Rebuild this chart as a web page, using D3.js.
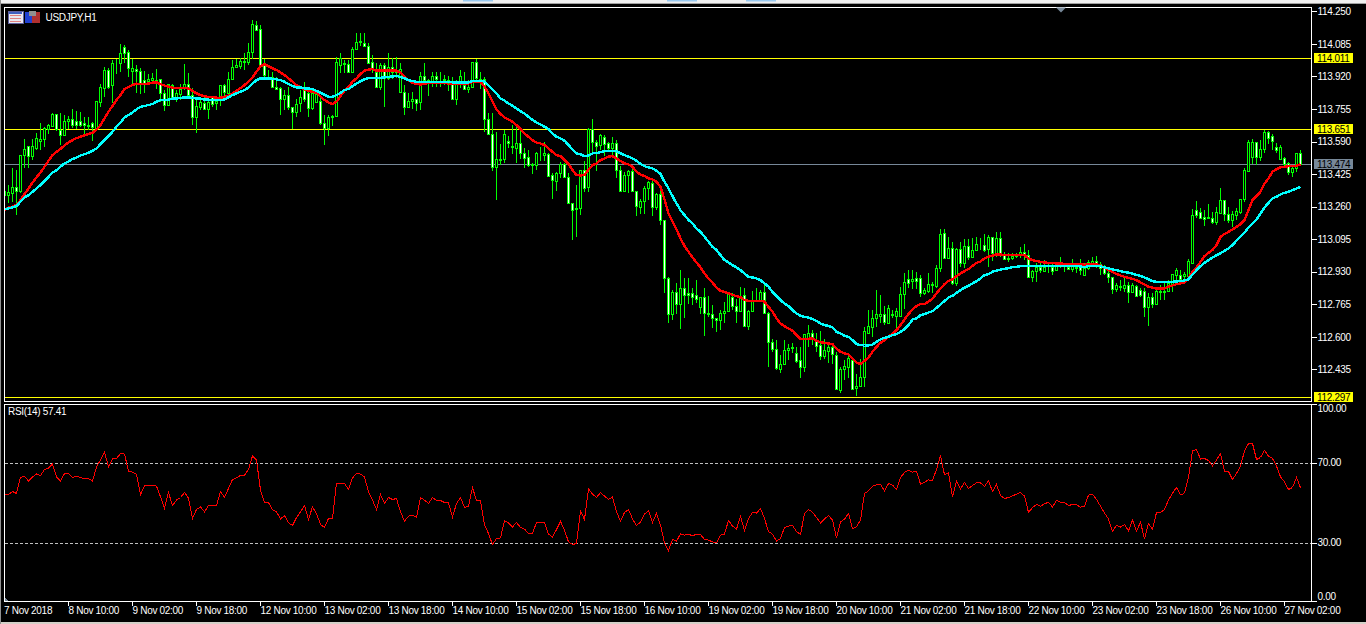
<!DOCTYPE html>
<html><head><meta charset="utf-8">
<script src="https://cdn.jsdelivr.net/npm/d3@7/dist/d3.min.js"></script>
<style>
html,body{margin:0;padding:0;background:#000;overflow:hidden}
svg{display:block}
text{font-family:"Liberation Sans",Arial,sans-serif;font-size:10px;fill:#fff;letter-spacing:-0.3px}
</style></head><body>
<svg id="c" width="1366" height="624"></svg>
<script>
const opens=[113.318,113.318,113.327,113.357,113.340,113.521,113.567,113.516,113.555,113.594,
113.601,113.651,113.668,113.727,113.648,113.623,113.695,113.705,113.692,113.692,
113.682,113.668,113.682,113.661,113.792,113.859,113.952,113.876,113.986,113.986,
114.067,114.043,113.949,113.955,113.945,113.901,113.898,113.901,113.901,113.905,
113.837,113.773,113.878,113.814,113.830,113.859,113.884,113.825,113.712,113.766,
113.783,113.753,113.817,113.787,113.800,113.874,113.837,113.905,113.966,113.972,
113.993,113.994,114.045,114.179,114.158,113.986,113.915,113.918,113.868,113.859,
113.803,113.824,113.766,113.741,113.787,113.851,113.834,113.758,113.792,113.797,
113.685,113.661,113.712,113.719,
113.977,113.983,113.981,113.944,114.057,114.096,114.091,114.075,113.991,113.944,113.868,113.977,113.910,113.966,113.944,113.842,
113.842,113.763,113.797,113.803,113.788,113.923,113.893,113.893,113.923,113.893,113.901,113.893,113.884,113.803,113.884,113.876,
113.854,113.864,113.991,113.905,113.905,113.702,113.626,113.459,113.496,113.499,113.594,113.563,113.557,113.580,113.530,113.509,
113.469,113.469,113.526,113.523,113.526,113.418,113.391,113.428,113.476,113.408,113.276,113.247,113.251,113.448,113.357,113.651,
113.589,113.572,113.611,113.580,113.557,113.584,113.448,113.337,113.418,113.438,113.337,113.259,113.290,113.354,113.381,113.256,113.323,
113.192,112.896,112.718,112.828,112.764,112.845,112.820,112.820,112.810,112.749,112.800,112.722,112.715,112.693,112.683,112.722,
112.729,112.803,112.756,112.729,112.810,112.656,112.732,112.783,112.783,112.827,112.722,112.573,112.536,112.438,112.460,112.533,
112.544,112.516,112.482,112.448,112.592,112.617,112.583,112.558,112.502,112.529,112.546,112.510,112.330,112.435,112.448,112.482,
112.343,112.350,112.394,112.620,112.651,112.693,112.705,112.718,112.671,112.713,112.708,112.707,112.815,112.891,112.881,112.898,
112.896,112.820,112.833,112.862,112.857,112.947,113.124,113.002,113.048,112.871,113.043,112.975,113.058,113.006,113.040,113.068,
113.063,113.043,113.105,113.023,113.100,113.014,112.999,112.997,113.009,113.014,113.031,113.014,112.904,112.933,112.955,112.935,
112.952,112.955,112.938,112.962,112.952,112.952,112.945,112.950,112.955,112.913,112.947,112.975,112.985,112.969,112.947,112.921,
112.901,112.843,112.852,112.850,112.862,112.828,112.859,112.837,112.833,112.752,112.800,112.764,112.828,112.828,112.833,112.867,
112.914,112.913,112.909,112.908,112.975,113.241,113.234,113.209,113.202,113.200,113.183,113.229,113.293,113.222,113.192,113.217,
113.234,113.298,113.442,113.513,113.585,113.509,113.550,113.636,113.618,113.560,113.499,113.504,113.479,113.433,113.454,113.530];
const closes=[113.340,113.332,113.357,113.340,113.521,113.550,113.519,113.567,113.606,113.601,
113.656,113.672,113.729,113.651,113.623,113.695,113.702,113.673,113.672,113.675,
113.672,113.672,113.665,113.797,113.864,113.952,113.864,113.986,113.989,114.040,
114.040,113.961,113.962,113.945,113.881,113.884,113.908,113.912,113.898,113.837,
113.776,113.881,113.807,113.834,113.857,113.884,113.825,113.712,113.770,113.790,
113.753,113.790,113.780,113.793,113.874,113.842,113.905,113.966,113.976,113.996,
113.996,114.045,114.185,114.155,113.977,113.927,113.918,113.868,113.857,113.803,
113.824,113.766,113.741,113.780,113.814,113.808,113.758,113.834,113.830,113.685,
113.661,113.715,113.719,113.993,
114.011,113.989,113.944,114.057,114.096,114.099,114.075,113.989,113.961,113.868,113.977,113.910,113.966,113.944,113.952,113.955,
113.766,113.797,113.803,113.787,113.923,113.901,113.901,113.923,113.906,113.898,113.908,113.901,113.808,113.888,113.922,113.854,
113.864,113.991,113.910,113.893,113.702,113.626,113.459,113.499,113.499,113.626,113.580,113.567,113.580,113.530,113.506,113.470,
113.476,113.530,113.528,113.530,113.415,113.394,113.428,113.476,113.408,113.276,113.242,113.251,113.448,113.356,113.653,113.589,
113.568,113.621,113.577,113.557,113.584,113.448,113.337,113.420,113.438,113.337,113.263,113.290,113.352,113.384,113.256,113.323,113.192,
112.896,112.718,112.828,112.766,112.845,112.810,112.811,112.800,112.794,112.800,112.722,112.717,112.693,112.683,112.723,112.729,
112.816,112.756,112.729,112.806,112.656,112.730,112.786,112.786,112.827,112.722,112.573,112.536,112.440,112.460,112.533,112.541,
112.549,112.478,112.448,112.614,112.617,112.600,112.553,112.504,112.533,112.546,112.512,112.333,112.436,112.451,112.492,112.338,
112.353,112.394,112.627,112.654,112.693,112.715,112.718,112.674,112.744,112.718,112.729,112.815,112.876,112.874,112.891,112.881,
112.820,112.837,112.867,112.867,112.947,113.119,113.002,113.048,112.871,113.043,112.975,113.058,113.006,113.040,113.073,113.073,
113.040,113.105,113.026,113.100,113.023,112.992,112.992,113.011,113.014,113.031,113.014,112.904,112.933,112.955,112.938,112.955,
112.955,112.935,112.969,112.969,112.955,112.945,112.958,112.955,112.941,112.947,112.980,112.982,112.969,112.947,112.921,112.901,
112.843,112.862,112.859,112.862,112.828,112.862,112.808,112.813,112.752,112.800,112.764,112.832,112.832,112.832,112.871,112.918,
112.938,112.892,112.918,112.982,113.220,113.219,113.200,113.198,113.209,113.183,113.231,113.293,113.225,113.192,113.222,113.239,
113.298,113.448,113.589,113.589,113.513,113.552,113.636,113.609,113.594,113.547,113.563,113.476,113.433,113.454,113.530,113.474];
const highs=[113.340,113.369,113.454,113.445,113.521,113.601,113.567,113.601,113.634,113.682,
113.665,113.678,113.732,113.727,113.732,113.724,113.719,113.756,113.746,113.739,
113.712,113.712,113.688,113.797,113.881,113.969,113.961,114.003,114.006,114.084,
114.079,114.054,114.010,113.977,113.961,113.945,113.932,113.939,113.955,113.905,
113.851,113.884,113.884,113.851,113.884,113.983,113.935,113.859,113.800,113.817,
113.825,113.808,113.820,113.817,113.876,113.884,113.944,114.003,114.006,114.011,
114.037,114.087,114.206,114.202,114.180,114.006,113.952,113.944,113.918,113.864,
113.851,113.868,113.766,113.803,113.851,113.893,113.854,113.854,113.842,113.825,
113.724,113.724,113.724,114.020,
114.037,114.003,114.003,114.070,114.138,114.141,114.138,114.091,114.028,113.986,113.986,113.986,114.037,114.011,114.016,113.986,
113.876,113.834,113.842,113.808,113.944,113.986,113.905,113.944,113.944,113.944,113.927,113.923,113.918,113.901,113.952,113.944,
113.901,113.994,114.008,113.944,113.918,113.732,113.737,113.639,113.577,113.648,113.617,113.673,113.673,113.645,113.555,113.547,
113.479,113.538,113.563,113.589,113.530,113.428,113.437,113.487,113.479,113.428,113.279,113.369,113.448,113.492,113.656,113.702,
113.597,113.628,113.623,113.589,113.611,113.597,113.465,113.437,113.445,113.462,113.340,113.301,113.364,113.391,113.398,113.327,113.344,
113.192,112.901,112.837,112.871,112.941,112.896,112.896,112.850,112.887,112.803,112.850,112.806,112.761,112.693,112.735,112.778,
112.820,112.823,112.794,112.854,112.850,112.735,112.833,112.845,112.837,112.874,112.727,112.587,112.583,112.507,112.583,112.566,
112.570,112.549,112.549,112.614,112.659,112.634,112.620,112.627,112.587,112.566,112.563,112.524,112.448,112.482,112.516,112.499,
112.414,112.490,112.651,112.735,112.735,112.837,112.810,112.756,112.761,112.735,112.744,112.854,112.921,112.938,112.938,112.930,
112.913,112.845,112.921,112.879,112.963,113.144,113.144,113.104,113.082,113.048,113.082,113.094,113.094,113.099,113.107,113.099,
113.121,113.116,113.107,113.129,113.131,113.031,113.023,113.026,113.026,113.056,113.073,113.040,112.938,112.972,112.980,112.989,
112.969,112.972,112.972,113.006,112.963,112.972,112.992,112.972,112.992,112.975,112.989,113.006,113.009,112.980,112.963,112.947,
112.904,112.871,112.887,112.904,112.879,112.871,112.862,112.845,112.845,112.820,112.823,112.845,112.862,112.871,112.887,112.918,
112.947,112.938,112.930,112.992,113.246,113.288,113.251,113.242,113.273,113.234,113.259,113.352,113.293,113.256,113.239,113.251,
113.301,113.454,113.597,113.601,113.589,113.597,113.648,113.645,113.628,113.580,113.572,113.513,113.487,113.470,113.530,113.547];
const lows=[113.310,113.276,113.285,113.217,113.327,113.454,113.457,113.496,113.547,113.547,
113.563,113.628,113.665,113.645,113.572,113.617,113.651,113.661,113.651,113.665,
113.628,113.648,113.594,113.645,113.763,113.817,113.854,113.783,113.932,113.944,
113.986,113.915,113.884,113.834,113.830,113.834,113.876,113.881,113.854,113.792,
113.746,113.773,113.817,113.792,113.800,113.851,113.817,113.673,113.634,113.749,
113.749,113.702,113.766,113.749,113.770,113.808,113.817,113.901,113.961,113.955,
113.952,113.977,114.006,114.155,113.977,113.915,113.901,113.864,113.851,113.724,
113.749,113.749,113.651,113.715,113.741,113.792,113.712,113.749,113.783,113.673,
113.574,113.617,113.668,113.715,
113.935,113.939,113.935,113.944,114.057,114.074,114.070,113.986,113.935,113.859,113.851,113.763,113.901,113.905,113.910,113.842,
113.724,113.758,113.753,113.744,113.749,113.884,113.820,113.868,113.868,113.868,113.876,113.847,113.808,113.775,113.859,113.851,
113.837,113.859,113.901,113.854,113.639,113.623,113.442,113.293,113.470,113.482,113.555,113.526,113.479,113.499,113.454,113.462,
113.425,113.445,113.492,113.492,113.411,113.298,113.340,113.403,113.403,113.273,113.090,113.107,113.217,113.335,113.335,113.538,
113.442,113.547,113.516,113.547,113.504,113.403,113.335,113.335,113.327,113.332,113.212,113.222,113.225,113.293,113.212,113.242,113.166,
112.823,112.671,112.685,112.718,112.642,112.693,112.766,112.761,112.772,112.718,112.605,112.701,112.647,112.625,112.634,112.668,
112.727,112.735,112.668,112.727,112.651,112.637,112.727,112.783,112.783,112.715,112.448,112.524,112.431,112.418,112.456,112.482,
112.519,112.468,112.392,112.423,112.549,112.558,112.524,112.485,112.490,112.468,112.462,112.330,112.316,112.380,112.389,112.330,
112.299,112.347,112.347,112.617,112.600,112.651,112.668,112.659,112.664,112.693,112.637,112.701,112.740,112.845,112.840,112.840,
112.803,112.811,112.820,112.820,112.845,112.930,112.997,113.002,112.862,112.859,112.955,112.947,112.989,112.997,113.040,113.040,
113.031,112.955,112.985,113.006,113.006,112.989,112.980,112.989,113.002,112.997,112.989,112.896,112.879,112.879,112.921,112.935,
112.925,112.911,112.935,112.947,112.930,112.938,112.930,112.925,112.913,112.911,112.938,112.955,112.947,112.913,112.913,112.871,
112.816,112.828,112.833,112.828,112.772,112.820,112.806,112.803,112.701,112.656,112.744,112.761,112.786,112.789,112.833,112.828,
112.871,112.891,112.887,112.904,112.972,113.200,113.195,113.161,113.197,113.171,113.166,113.225,113.188,113.178,113.158,113.192,
113.225,113.285,113.437,113.476,113.470,113.492,113.530,113.577,113.547,113.533,113.496,113.462,113.420,113.411,113.437,113.470];
const emaFast=[113.242,113.256,113.259,113.269,113.293,113.323,113.352,113.381,113.408,113.433,
113.462,113.492,113.521,113.538,113.552,113.570,113.585,113.597,113.607,113.614,
113.621,113.628,113.634,113.651,113.673,113.707,113.741,113.770,113.800,113.825,
113.856,113.866,113.876,113.883,113.881,113.881,113.884,113.888,113.890,113.881,
113.874,113.868,113.863,113.861,113.861,113.861,113.859,113.847,113.834,113.825,
113.820,113.815,113.815,113.812,113.812,113.815,113.822,113.834,113.847,113.861,
113.876,113.893,113.915,113.944,113.972,113.981,113.972,113.961,113.952,113.940,
113.927,113.910,113.893,113.876,113.864,113.854,113.847,113.842,113.837,113.817,
113.800,113.788,113.780,113.792,113.820,
113.847,113.868,113.893,113.910,113.932,113.949,113.955,113.957,113.949,113.949,113.949,113.949,113.949,113.949,113.939,
113.918,113.901,113.888,113.881,113.879,113.883,113.886,113.888,113.890,113.890,113.888,113.884,113.884,113.884,113.884,113.884,113.884,
113.891,113.893,113.893,113.868,113.834,113.792,113.753,113.729,113.712,113.702,113.690,113.673,113.653,113.631,113.614,113.597,113.585,113.580,113.572,
113.555,113.538,113.521,113.516,113.496,113.476,113.445,113.420,113.418,113.420,113.448,113.470,113.479,113.496,113.504,113.513,113.516,113.504,113.491,113.479,
113.474,113.462,113.437,113.423,113.415,113.403,113.398,113.386,113.361,
113.296,113.225,113.183,113.144,113.099,113.060,113.031,113.002,112.977,112.952,112.921,112.896,112.874,112.850,112.833,112.827,112.820,112.813,112.806,112.801,
112.786,112.783,112.783,112.783,112.783,112.778,112.752,112.727,112.693,112.668,112.654,112.642,112.631,112.609,112.588,112.588,112.590,112.592,112.580,112.573,
112.570,112.566,112.563,112.541,112.524,112.516,112.512,112.490,112.470,112.462,112.478,112.495,112.524,112.549,112.570,112.583,112.600,112.617,112.634,112.659,
112.688,112.715,112.739,112.756,112.766,112.766,112.778,112.794,112.820,112.845,112.867,112.884,112.891,112.908,112.921,112.933,112.943,112.960,112.975,112.982,
112.997,113.006,113.011,113.018,113.018,113.014,113.014,113.014,113.014,113.014,113.014,112.997,112.989,112.984,112.980,112.977,112.975,112.974,112.972,112.972,
112.970,112.969,112.969,112.967,112.967,112.965,112.967,112.967,112.967,112.962,112.950,112.938,112.928,112.918,112.911,112.904,112.899,112.894,112.887,112.876,
112.865,112.854,112.849,112.845,112.845,112.845,112.854,112.860,112.867,112.871,112.874,112.896,112.930,112.952,112.980,113.009,113.026,113.040,113.065,113.107,
113.121,113.132,113.144,113.158,113.171,113.192,113.242,113.293,113.313,113.335,113.377,113.403,113.437,113.450,113.459,113.462,113.465,113.465,113.467,113.474];
const emaSlow=[113.247,113.251,113.256,113.263,113.285,113.307,113.318,113.335,113.352,113.369,
113.389,113.411,113.432,113.445,113.462,113.479,113.489,113.501,113.509,113.519,
113.526,113.533,113.543,113.555,113.577,113.597,113.617,113.639,113.665,113.685,
113.712,113.724,113.737,113.753,113.766,113.770,113.775,113.780,113.792,113.800,
113.800,113.802,113.807,113.808,113.810,113.814,113.814,113.810,113.808,113.807,
113.803,113.802,113.800,113.800,113.800,113.803,113.814,113.825,113.834,113.842,
113.851,113.863,113.884,113.901,113.910,113.910,113.910,113.908,113.905,113.901,
113.893,113.881,113.871,113.864,113.864,113.859,113.859,113.856,113.847,113.837,
113.827,113.817,113.817,113.825,113.837,
113.851,113.856,113.871,113.884,113.896,113.905,113.912,113.913,113.913,113.913,113.915,113.917,113.920,113.922,113.917,
113.910,113.901,113.896,113.893,113.893,113.893,113.893,113.893,113.893,113.893,113.893,113.891,113.890,113.890,113.890,113.890,113.890,
113.896,113.898,113.898,113.893,113.873,113.854,113.834,113.808,113.797,113.783,113.771,113.758,113.744,113.732,113.715,113.699,113.687,113.677,113.665,
113.653,113.631,113.614,113.606,113.594,113.572,113.550,113.530,113.525,113.516,113.519,113.530,113.531,113.536,113.541,113.543,113.541,113.541,113.530,113.521,
113.513,113.504,113.492,113.476,113.465,113.459,113.454,113.442,113.425,
113.386,113.352,113.313,113.276,113.242,113.217,113.192,113.175,113.149,113.132,113.107,113.082,113.056,113.040,113.014,112.989,112.977,112.963,112.952,112.938,
112.921,112.904,112.901,112.896,112.887,112.871,112.854,112.828,112.806,112.786,112.769,112.756,112.735,112.718,112.707,112.701,112.698,112.690,112.681,112.668,
112.659,112.656,112.647,112.625,112.617,112.605,112.600,112.583,112.563,112.558,112.556,112.556,112.561,112.575,112.587,112.595,112.600,112.609,112.614,112.625,
112.639,112.659,112.688,112.693,112.710,112.715,112.723,112.730,112.747,112.764,112.781,112.800,112.808,112.823,112.837,112.849,112.859,112.871,112.882,112.896,
112.913,112.918,112.930,112.936,112.941,112.945,112.948,112.953,112.955,112.958,112.958,112.958,112.958,112.958,112.958,112.958,112.958,112.958,112.958,112.958,
112.958,112.958,112.958,112.958,112.957,112.953,112.958,112.960,112.960,112.958,112.952,112.947,112.941,112.938,112.933,112.928,112.925,112.921,112.913,112.909,
112.901,112.892,112.882,112.879,112.879,112.879,112.879,112.879,112.881,112.882,112.886,112.891,112.916,112.938,112.958,112.975,112.989,113.002,113.014,113.023,
113.036,113.048,113.065,113.087,113.107,113.129,113.154,113.175,113.195,113.225,113.256,113.279,113.301,113.310,113.322,113.330,113.335,113.344,113.351,113.361];
const rsi=[54,54,55.5,54.5,62.5,63.2,60.8,62.8,64.3,63.5,
66.5,67.2,69.2,62.8,60.8,64.5,64.5,62.5,63.2,62.5,
61.8,62,60.7,67.8,71.2,75.2,67.8,71.8,72,74.5,
74.2,65.7,65.2,64.2,53.8,58.5,58.5,58.5,58.2,52.8,
47,55,48.5,51.2,52.5,55,52.2,42,46.5,47.8,
45.3,48.5,48.5,48.5,55.5,52.5,57,61.5,62.3,63.5,
63.7,66.5,73.3,71.2,56.2,50,50,46.5,45.3,41.8,
43.5,39.8,38.5,42.5,45.3,48.5,41.5,47.8,44.5,39,
37.5,42,42.2,59.6,59.3,
59.5,56.5,62.3,64.5,64.2,62.8,55.3,51.2,46.5,54,49.5,52.5,51.5,52,45.3,
40.7,43.2,43.5,42.7,52.5,51.2,49.5,52.5,51,51,50,49.8,42.8,49.5,52.5,47.5,48.2,57.5,51,51,
38.7,34.5,29,32,32.3,41,39.8,37.8,40,37.5,36.7,34.5,34.5,40,40,40,34.2,32.7,36.5,40.5,
36.2,30.3,29,29.5,45.8,41.5,56.8,54.2,52.5,55,53.2,51.5,52.8,45.3,40.7,45,46.5,41.8,38.5,40.2,
44.2,46,40,44.5,38.7,29.8,26,31.5,30.7,34.3,33.7,34,33.5,34,34,31.5,31.2,30.3,29.8,33.7,
34.2,41,38.2,36.7,43,36,42,45,44.7,47,42,35.5,34.2,30.7,32,37.5,38.2,38.5,35.5,34,
44.5,46.5,45.2,42.5,39.8,41.8,43.5,41.2,32.3,40.2,41.7,44.5,37,37.8,41.2,54.5,55.8,58.2,58.8,59.2,
55.8,59.5,58.7,56.5,62.5,65,66.2,65.2,65.5,59.2,60.2,61.3,61,66.5,73.5,63.8,65,52.8,60.5,56.8,
60,57,58.5,59.8,59.8,58,61,55.5,59,53.5,52,52.5,53.3,54.2,55,53.2,45,47.5,49,48.2,
49.3,50.2,47.8,51,50.2,50,48.5,49,48.8,47.7,48.2,53.7,54.2,51.5,48.2,44.8,41.7,35.7,38.5,37.7,
39,35.8,41.2,35.7,40.2,31.7,39.5,36.5,45,45,
46.5,51.2,54.7,57.5,53.8,54.5,62.8,75.8,76.5,71.7,72,71,68.3,71.2,74.5,65.7,65.5,61.5,64.5,68.2,
75.8,79.5,79.5,71.5,72.5,76,73.2,72,68.2,62.8,60.3,56.5,57.5,62.5,57.41];
const priceTicks=[114.250,114.085,113.920,113.755,113.590,113.425,113.260,113.095,112.930,112.765,112.600,112.435];
const rsiTicks=[100,70,30,0];
const levels=[114.011,113.651,112.297];
const bidLevel=113.474;
const timeTickBars=[16,32,48,64,80,96,112,128,144,160,176,192,208,224,240,256,272,288,304,320];
const timeTickLabels=["8 Nov 10:00","9 Nov 02:00","9 Nov 18:00","12 Nov 10:00","13 Nov 02:00","13 Nov 18:00","14 Nov 10:00","15 Nov 02:00","15 Nov 18:00","16 Nov 10:00","19 Nov 02:00","19 Nov 18:00","20 Nov 10:00","21 Nov 02:00","21 Nov 18:00","22 Nov 10:00","23 Nov 02:00","23 Nov 18:00","26 Nov 10:00","27 Nov 02:00"];

const svg=d3.select('#c');
const L=4.5,R=1311.5,T=7.5,B1=401.5,T2=404.5,B2=601.5;
const n=closes.length;
const bars=d3.range(n);
const x=d3.scaleLinear().domain([0,324]).range([4.5,1300.5]);
const y=d3.scaleLinear().domain([114.25,112.297]).range([11.3,396.6]);
const ry=d3.scaleLinear().domain([0,100]).range([602.5,402.5]);

// window chrome
svg.append('rect').attr('width',1366).attr('height',624).attr('fill','#000');
svg.append('rect').attr('width',1366).attr('height',3).attr('fill','#f0f0f0');
svg.append('rect').attr('y',3).attr('width',1366).attr('height',1).attr('fill','#a0a0a0');
[463,667,746].forEach(v=>svg.append('rect').attr('x',v).attr('width',30).attr('height',1.5).attr('fill','#99c9f0'));
svg.append('rect').attr('y',622).attr('width',1366).attr('height',2).attr('fill','#d4d0c8');
svg.append('rect').attr('width',1).attr('height',624).attr('fill','#909090');

// clip
const defs=svg.append('defs');
defs.append('clipPath').attr('id','main').append('rect').attr('x',L).attr('y',T).attr('width',R-L).attr('height',B1-T);
defs.append('clipPath').attr('id','sub').append('rect').attr('x',L).attr('y',T2).attr('width',R-L).attr('height',B2-T2);

const main=svg.append('g').attr('clip-path','url(#main)').attr('shape-rendering','crispEdges');
levels.forEach(v=>main.append('line').attr('x1',L).attr('x2',R).attr('y1',Math.round(y(v))+.5).attr('y2',Math.round(y(v))+.5).attr('stroke','#ffff00'));
main.append('line').attr('x1',L).attr('x2',R).attr('y1',Math.round(y(bidLevel))+.5).attr('y2',Math.round(y(bidLevel))+.5).attr('stroke','#778899');

main.selectAll('line.w').data(bars).join('line').attr('class','w')
 .attr('x1',i=>x(i)).attr('x2',i=>x(i)).attr('y1',i=>y(highs[i])).attr('y2',i=>y(lows[i])).attr('stroke','#00ff00');
main.selectAll('rect.b').data(bars).join('rect').attr('class','b')
 .attr('x',i=>x(i)-1).attr('width',2)
 .attr('y',i=>Math.round(y(Math.max(opens[i],closes[i])))+.5)
 .attr('height',i=>Math.max(0,Math.round(y(Math.min(opens[i],closes[i])))-Math.round(y(Math.max(opens[i],closes[i])))))
 .attr('fill',i=>closes[i]>=opens[i]?'#000':'#fff').attr('stroke','#00ff00');

const line=d3.line().x((d,i)=>x(i)).y(d=>y(d));
main.append('path').attr('d',line(emaFast)).attr('fill','none').attr('stroke','#ff0000').attr('stroke-width',2.4);
main.append('path').attr('d',line(emaSlow)).attr('fill','none').attr('stroke','#00ffff').attr('stroke-width',2.4);

// RSI
const sub=svg.append('g').attr('clip-path','url(#sub)').attr('shape-rendering','crispEdges');
[70,30].forEach(v=>sub.append('line').attr('x1',L).attr('x2',R).attr('y1',Math.round(ry(v))+.5).attr('y2',Math.round(ry(v))+.5).attr('stroke','#c0c0c0').attr('stroke-dasharray','3,2'));
const rline=d3.line().x((d,i)=>x(i)).y(d=>ry(d));
sub.append('path').attr('d',rline(rsi)).attr('fill','none').attr('stroke','#ff0000');
sub.append('path').attr('d',`M${L},597L${L},${B2}L9.5,${B2}Z`).attr('fill','#778899');

// frames
[[T,B1],[T2,B2]].forEach(([a,b])=>svg.append('rect').attr('x',L).attr('y',a).attr('width',R-L).attr('height',b-a).attr('fill','none').attr('stroke','#fff').attr('shape-rendering','crispEdges'));

// top marker
svg.append('path').attr('d','M1056,7.5L1066,7.5L1061,12.5Z').attr('fill','#778899');

// axes
const priceAxis=d3.axisRight(y).tickValues(priceTicks).tickSize(5).tickPadding(1).tickFormat(d3.format('.3f'));
const ga=svg.append('g').attr('transform',`translate(${R},0)`).call(priceAxis);
ga.select('.domain').remove();
ga.selectAll('line').attr('stroke','#fff').attr('shape-rendering','crispEdges');

const rsiAxis=d3.axisRight(ry).tickValues(rsiTicks).tickSize(5).tickPadding(1).tickFormat(d3.format('.2f'));
const gr=svg.append('g').attr('transform',`translate(${R},0)`).call(rsiAxis);
gr.select('.domain').remove();
gr.selectAll('line').attr('stroke','#fff').attr('shape-rendering','crispEdges');
gr.selectAll('.tick').filter(d=>d===100).attr('transform',`translate(0,${T2})`).select('text').attr('dy','.85em').attr('y',-1);
gr.selectAll('.tick').filter(d=>d===0).attr('transform',`translate(0,${B2})`).select('text').attr('dy','-.2em');

const timeAxis=d3.axisBottom(x).tickValues(timeTickBars).tickSize(4).tickPadding(0).tickFormat((d,i)=>timeTickLabels[i]);
const gt=svg.append('g').attr('transform',`translate(0,${B2})`).call(timeAxis);
gt.select('.domain').remove();
gt.selectAll('line').attr('stroke','#fff').attr('shape-rendering','crispEdges').attr('transform','translate(-0.5,0)');
gt.selectAll('text').attr('text-anchor','start').attr('x',-0.5).attr('y',5.4).attr('dy','.71em');
svg.append('text').attr('x',4).attr('y',614).text('7 Nov 2018');

// price boxes
const tag=(v,bg)=>{
  const yy=Math.round(y(v));
  svg.append('rect').attr('x',1314).attr('y',yy-5).attr('width',39).attr('height',10).attr('fill',bg);
  svg.append('text').attr('x',1317).attr('y',yy+4).style('fill','#000').text(d3.format('.3f')(v));
};
levels.forEach(v=>tag(v,'#ffff00'));
tag(bidLevel,'#778899');

// labels
svg.append('text').attr('x',45.5).attr('y',21).text('USDJPY,H1');
svg.append('text').attr('x',8).attr('y',415).text('RSI(14) 57.41');

// chart icons
const ic=svg.append('g').attr('shape-rendering','crispEdges');
ic.append('rect').attr('x',8).attr('y',11).attr('width',15).attr('height',12).attr('fill','#e8e8f0').attr('stroke','#6060a0');
ic.append('rect').attr('x',9).attr('y',12).attr('width',13).attr('height',2).attr('fill','#4060c0');
[15,18,21].forEach(v=>ic.append('rect').attr('x',10).attr('y',v-.5).attr('width',11).attr('height',1).attr('fill','#e08080'));
ic.append('rect').attr('x',25).attr('y',12).attr('width',7).attr('height',11).attr('fill','#2040d0');
ic.append('rect').attr('x',32).attr('y',12).attr('width',8).attr('height',11).attr('fill','#b03030');
ic.append('rect').attr('x',29).attr('y',11).attr('width',7).attr('height',5).attr('fill','#909090');
</script>
</body></html>
